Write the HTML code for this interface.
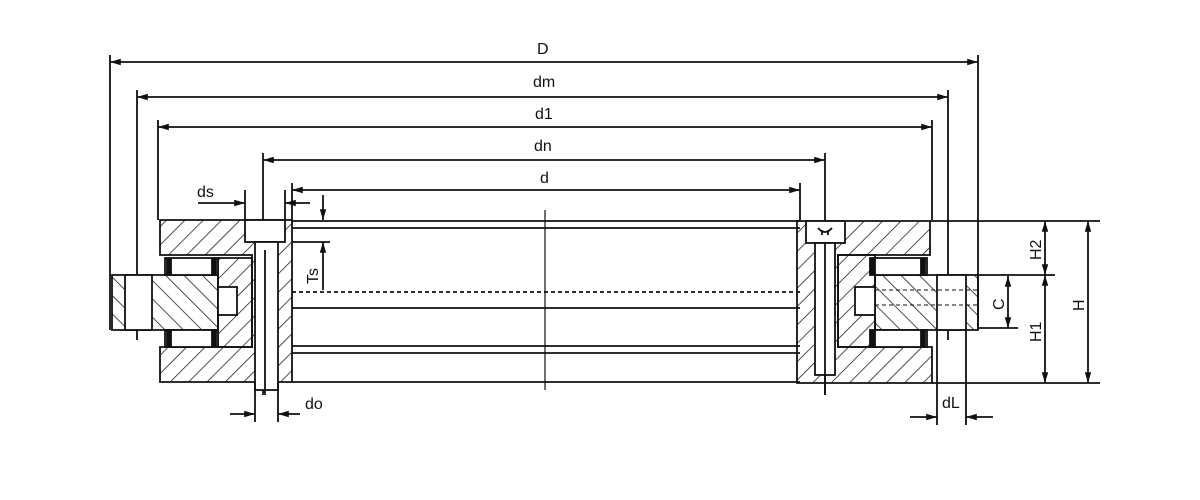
<!DOCTYPE html>
<html><head><style>body{margin:0;background:#fff}svg{display:block}text{font-family:"Liberation Sans",sans-serif;font-size:16px;fill:#111}</style></head><body>
<svg width="1200" height="500" viewBox="0 0 1200 500" xmlns="http://www.w3.org/2000/svg">
<defs>
<pattern id="h1" width="13" height="13" patternUnits="userSpaceOnUse" patternTransform="rotate(45)"><line x1="0" y1="0" x2="0" y2="13" stroke="#222" stroke-width="1.6"/></pattern>
<pattern id="h2" width="13" height="13" patternUnits="userSpaceOnUse" patternTransform="rotate(-45)"><line x1="0" y1="0" x2="0" y2="13" stroke="#222" stroke-width="1.6"/></pattern>
<marker id="a" viewBox="0 0 10 10" refX="10" refY="5" markerWidth="8" markerHeight="6" orient="auto-start-reverse"><path d="M0,2 L10,5 L0,8z" fill="#111"/></marker>
</defs>
<g stroke="#111" stroke-width="1.8" fill="none">
<line x1="110" y1="62" x2="978" y2="62" marker-start="url(#a)" marker-end="url(#a)"/>
<line x1="137" y1="97" x2="948" y2="97" marker-start="url(#a)" marker-end="url(#a)"/>
<line x1="158" y1="127" x2="932" y2="127" marker-start="url(#a)" marker-end="url(#a)"/>
<line x1="263" y1="160" x2="825" y2="160" marker-start="url(#a)" marker-end="url(#a)"/>
<line x1="292" y1="190" x2="800" y2="190" marker-start="url(#a)" marker-end="url(#a)"/>
<line x1="110" y1="55" x2="110" y2="330"/><line x1="978" y1="55" x2="978" y2="330"/>
<line x1="137" y1="90" x2="137" y2="340"/><line x1="948" y1="90" x2="948" y2="340"/>
<line x1="158" y1="120" x2="158" y2="220"/><line x1="932" y1="120" x2="932" y2="220"/>
<line x1="263" y1="153" x2="263" y2="395"/><line x1="825" y1="153" x2="825" y2="395"/>
<line x1="292" y1="183" x2="292" y2="220"/><line x1="800" y1="183" x2="800" y2="220"/>
<line x1="545" y1="210" x2="545" y2="390" stroke-width="1.2"/>
<line x1="292" y1="221" x2="800" y2="221"/><line x1="292" y1="228" x2="800" y2="228"/>
<line x1="292" y1="292" x2="800" y2="292" stroke-dasharray="4 3"/>
<line x1="292" y1="308" x2="800" y2="308"/>
<line x1="292" y1="346" x2="800" y2="346"/><line x1="292" y1="353" x2="800" y2="353"/>
<line x1="292" y1="382" x2="800" y2="382"/>
<path d="M160,220 H292 V382 H160 V347 H252 V255 H160z" fill="url(#h1)"/>
<rect x="245" y="220" width="40" height="22" fill="#fff"/>
<rect x="255" y="242" width="23" height="148" fill="#fff"/>
<line x1="265" y1="250" x2="265" y2="395"/>
<path d="M218,258 H252 V347 H218z" fill="url(#h1)"/>
<path d="M112,275 H218 V330 H112z" fill="url(#h2)"/>
<rect x="125" y="275" width="27" height="55" fill="#fff"/>
<rect x="218" y="287" width="19" height="28" fill="#fff"/>
<rect x="165" y="258" width="53" height="17" fill="#fff"/>
<rect x="165" y="330" width="53" height="17" fill="#fff"/>
<rect x="167" y="259" width="4" height="15" fill="#111"/><rect x="212" y="259" width="4" height="15" fill="#111"/>
<rect x="167" y="331" width="4" height="15" fill="#111"/><rect x="212" y="331" width="4" height="15" fill="#111"/>
<line x1="198" y1="203" x2="245" y2="203" marker-end="url(#a)"/><line x1="285" y1="203" x2="310" y2="203" marker-start="url(#a)"/>
<line x1="245" y1="190" x2="245" y2="220"/><line x1="285" y1="190" x2="285" y2="220"/>
<line x1="292" y1="242" x2="330" y2="242"/>
<line x1="323" y1="195" x2="323" y2="220" marker-end="url(#a)"/><line x1="323" y1="242" x2="323" y2="290" marker-start="url(#a)"/>
<line x1="230" y1="414" x2="255" y2="414" marker-end="url(#a)"/><line x1="278" y1="414" x2="300" y2="414" marker-start="url(#a)"/>
<line x1="255" y1="382" x2="255" y2="422"/><line x1="278" y1="382" x2="278" y2="422"/>
<path d="M797,221 H930 V255 H838 V347 H932 V383 H797z" fill="url(#h1)"/>
<rect x="806" y="221" width="39" height="22" fill="#fff"/>
<rect x="815" y="243" width="20" height="132" fill="#fff"/>
<path d="M818,228 q7,8 14,0 M822,230 v5 M828,230 v5" />
<line x1="825" y1="243" x2="825" y2="395"/>
<path d="M838,255 H875 V347 H838z" fill="url(#h1)"/>
<path d="M875,275 H978 V330 H875z" fill="url(#h2)"/>
<rect x="937" y="275" width="29" height="55" fill="#fff"/>
<rect x="855" y="287" width="20" height="28" fill="#fff"/>
<line x1="875" y1="290" x2="978" y2="290" stroke-dasharray="4 3" stroke-width="1"/>
<line x1="875" y1="305" x2="978" y2="305" stroke-dasharray="4 3" stroke-width="1"/>
<rect x="870" y="258" width="57" height="17" fill="#fff"/>
<rect x="870" y="330" width="57" height="17" fill="#fff"/>
<rect x="871" y="259" width="4" height="15" fill="#111"/><rect x="921" y="259" width="4" height="15" fill="#111"/>
<rect x="871" y="331" width="4" height="15" fill="#111"/><rect x="921" y="331" width="4" height="15" fill="#111"/>
<line x1="930" y1="221" x2="1100" y2="221"/><line x1="932" y1="383" x2="1100" y2="383"/>
<line x1="978" y1="275" x2="1055" y2="275"/><line x1="978" y1="328" x2="1018" y2="328"/>
<line x1="1045" y1="221" x2="1045" y2="275" marker-start="url(#a)" marker-end="url(#a)"/>
<line x1="1045" y1="275" x2="1045" y2="383" marker-start="url(#a)" marker-end="url(#a)"/>
<line x1="1088" y1="221" x2="1088" y2="383" marker-start="url(#a)" marker-end="url(#a)"/>
<line x1="1008" y1="276" x2="1008" y2="328" marker-start="url(#a)" marker-end="url(#a)"/>
<line x1="937" y1="330" x2="937" y2="425"/><line x1="966" y1="330" x2="966" y2="425"/>
<line x1="910" y1="417" x2="937" y2="417" marker-end="url(#a)"/><line x1="966" y1="417" x2="993" y2="417" marker-start="url(#a)"/>
</g>
<text x="537" y="54">D</text>
<text x="533" y="87">dm</text>
<text x="535" y="119">d1</text>
<text x="534" y="151">dn</text>
<text x="540" y="183">d</text>
<text x="197" y="197">ds</text>
<text x="305" y="409">do</text>
<text x="942" y="408">dL</text>
<text transform="translate(318,284) rotate(-90)">Ts</text>
<text transform="translate(1041,260) rotate(-90)">H2</text>
<text transform="translate(1041,342) rotate(-90)">H1</text>
<text transform="translate(1084,311) rotate(-90)">H</text>
<text transform="translate(1004,310) rotate(-90)">C</text>
</svg>
</body></html>
